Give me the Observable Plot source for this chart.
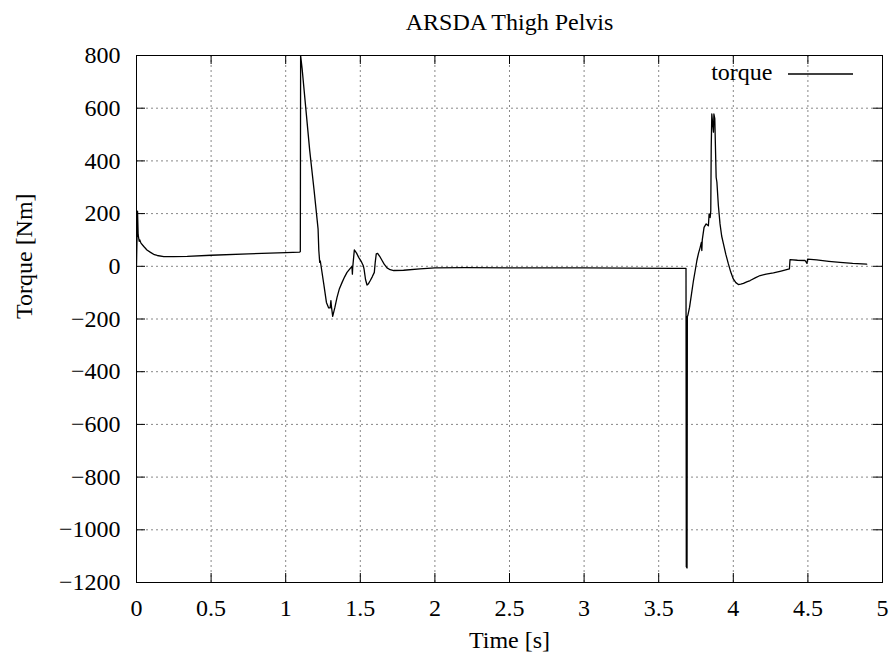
<!DOCTYPE html>
<html>
<head>
<meta charset="utf-8">
<script src="https://cdn.jsdelivr.net/npm/d3@7"></script>
<script src="https://cdn.jsdelivr.net/npm/@observablehq/plot@0.6"></script>
<style>
  html, body { margin: 0; padding: 0; background: white; }
</style>
</head>
<body>
<div id="chart"></div>
<script>
const title = "ARSDA Thigh Pelvis";
const xLabel = "Time [s]";
const yLabel = "Torque [Nm]";
const seriesName = "torque";
const xTicks = [0, 0.5, 1, 1.5, 2, 2.5, 3, 3.5, 4, 4.5, 5];
const yTicks = [-1200, -1000, -800, -600, -400, -200, 0, 200, 400, 600, 800];

const time = [
  0.0, 0.007, 0.011, 0.018, 0.022, 0.03, 0.049, 0.07, 0.094, 0.12, 0.139, 0.183, 0.25, 0.34, 0.5, 0.75, 1.0, 1.094, 1.098,
  1.1, 1.11, 1.161, 1.19, 1.217, 1.222, 1.228, 1.232, 1.236, 1.255, 1.273, 1.288, 1.298, 1.303, 1.306, 1.315, 1.33, 1.344,
  1.36, 1.378, 1.395, 1.411, 1.43, 1.444, 1.447, 1.449, 1.46, 1.475, 1.489, 1.505, 1.52, 1.525, 1.535, 1.545, 1.555, 1.567,
  1.58, 1.594, 1.6, 1.607, 1.616, 1.63, 1.646, 1.66, 1.679, 1.7, 1.724, 1.79, 1.9, 2.0, 2.2, 2.5, 2.8, 3.0, 3.3, 3.6, 3.683,
  3.685, 3.69, 3.692, 3.695, 3.707, 3.72, 3.733, 3.745, 3.756, 3.767, 3.778, 3.786, 3.789, 3.792, 3.804, 3.818, 3.833, 3.838,
  3.845, 3.849, 3.852, 3.856, 3.862, 3.867, 3.87, 3.876, 3.885, 3.89, 3.9, 3.911, 3.922, 3.934, 3.95, 3.967, 3.983, 4.0,
  4.017, 4.034, 4.05, 4.068, 4.09, 4.113, 4.15, 4.18, 4.22, 4.269, 4.32, 4.376, 4.38, 4.43, 4.481, 4.494, 4.498, 4.559,
  4.64, 4.715, 4.8, 4.894
];
const torque = [
  5, 209, 120, 95, 100, 88, 75, 62, 53, 44, 41, 37, 37, 38, 42, 47, 52, 54, 56,
  800, 750, 439, 290, 142, 60, 15, 20, 5, -67, -137, -158, -158, -130, -150, -190, -155, -118,
  -85, -61, -40, -23, -10, 0, -30, -5, 62, 50, 34, 20, 2, -10, -50, -71, -66, -54,
  -40, -23, 15, 47, 49, 38, 22, 8, -6, -13, -16, -15, -10, -6, -5, -6, -6, -6, -7, -8, -8,
  -1140, -1145, -190, -187, -155, -105, -54, -15, 22, 50, 72, 91, 60, 100, 148, 161, 154, 199,
  185, 211, 450, 578, 540, 509, 578, 560, 338, 320, 230, 161, 115, 85, 45, 9, -22, -48,
  -62, -69, -68, -65, -59, -54, -43, -35, -30, -25, -18, -10, 25, 23, 22, 11, 27, 24,
  19, 15, 11, 8
];

const data = time.map((t, i) => ({t, v: torque[i]}));

const W = 895, H = 659;
const mL = 136, mR = 13, mT = 55, mB = 77;
const plotW = W - mL - mR, plotH = H - mT - mB;
const tickLen = 9;
const gridStyle = {stroke: "#888", strokeOpacity: 1, strokeWidth: 1, strokeDasharray: "2,3"};

const chart = Plot.plot({
  width: W,
  height: H,
  marginLeft: mL,
  marginRight: mR,
  marginTop: mT,
  marginBottom: mB,
  style: {fontFamily: "'Liberation Serif', 'Times New Roman', serif", fontSize: "24px", background: "white", color: "black"},
  x: {domain: [0, 5]},
  y: {domain: [-1200, 800]},
  marks: [
    Plot.gridX(xTicks, gridStyle),
    Plot.gridY(yTicks, gridStyle),
    Plot.ruleX(xTicks, {stroke: "black", insetTop: plotH - tickLen}),
    Plot.ruleX(xTicks, {stroke: "black", insetBottom: plotH - tickLen}),
    Plot.ruleY(yTicks, {stroke: "black", insetRight: plotW - tickLen}),
    Plot.ruleY(yTicks, {stroke: "black", insetLeft: plotW - tickLen}),
    Plot.axisX(xTicks, {anchor: "bottom", tickSize: 0, tickPadding: 16, tickFormat: d => String(d), label: null}),
    Plot.axisY(yTicks, {anchor: "left", tickSize: 0, tickPadding: 16, tickFormat: d3.format("d"), label: null}),
    Plot.line(data, {x: "t", y: "v", stroke: "black", strokeWidth: 1.3, clip: true}),
    Plot.frame({stroke: "black", strokeWidth: 1}),
    Plot.text([title], {text: d => d, frameAnchor: "top", lineAnchor: "middle", dy: -33}),
    Plot.text([xLabel], {text: d => d, frameAnchor: "bottom", lineAnchor: "middle", dy: 58}),
    Plot.text([yLabel], {text: d => d, frameAnchor: "left", lineAnchor: "middle", rotate: -90, dx: -112}),
    Plot.text([seriesName], {text: d => d, frameAnchor: "top-right", lineAnchor: "middle", textAnchor: "end", dx: -110, dy: 17})
  ]
});

// legend sample line
const svg = d3.select(chart);
svg.append("line")
  .attr("x1", W - mR - 94).attr("x2", W - mR - 29)
  .attr("y1", mT + 19).attr("y2", mT + 19)
  .attr("stroke", "black").attr("stroke-width", 1.3);

document.getElementById("chart").appendChild(chart);
</script>
</body>
</html>
